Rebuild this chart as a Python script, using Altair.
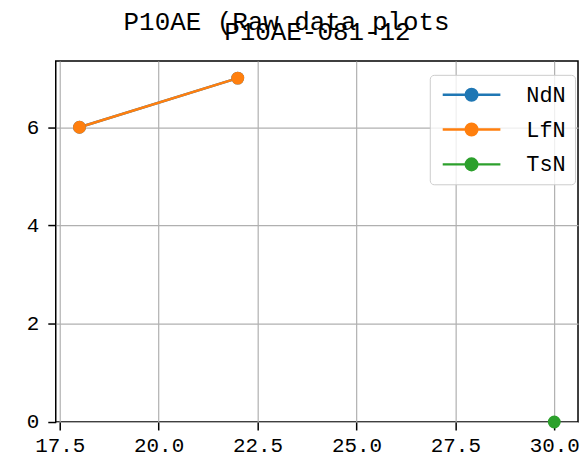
import altair as alt
import pandas as pd

series_names = ["NdN", "LfN", "TsN"]
series_colors = ["#1f77b4", "#ff7f0e", "#2ca02c"]
ndn_x = [18, 22]
ndn_y = [6, 7]
lfn_x = [18, 22]
lfn_y = [6, 7]
tsn_x = [30]
tsn_y = [0]
titles = ["P10AE (Raw data plots", "P10AE-081-12"]
x_ticks = [17.5, 20.0, 22.5, 25.0, 27.5, 30.0]
y_ticks = [0, 2, 4, 6]

rows = []
for name, xs, ys in [("NdN", ndn_x, ndn_y), ("LfN", lfn_x, lfn_y), ("TsN", tsn_x, tsn_y)]:
    for i, (xv, yv) in enumerate(zip(xs, ys)):
        rows.append({"series": name, "x": xv, "y": yv, "order": i})
df = pd.DataFrame(rows)

FONT = "Liberation Mono"

xenc = alt.X("x:Q", scale=alt.Scale(domain=[17.4, 30.6], nice=False, zero=False),
             axis=alt.Axis(values=x_ticks, format=".1f", title=None))
yenc = alt.Y("y:Q", scale=alt.Scale(domain=[0, 7.35], nice=False, zero=False),
             axis=alt.Axis(values=y_ticks, title=None))
color = alt.Color("series:N", sort=series_names,
                  scale=alt.Scale(domain=series_names, range=series_colors),
                  legend=alt.Legend(
                      title=None, orient="none", legendX=376, legendY=14,
                      symbolType="M-1,0L7.28,0M2.31,0A0.83,0.83,0,1,0,3.97,0A0.83,0.83,0,1,0,2.31,0Z",
                      symbolSize=196, symbolStrokeWidth=2.5,
                      labelFont=FONT, labelFontSize=22, labelColor="black",
                      fillColor="rgba(255,255,255,0.8)", strokeColor="#cccccc",
                      cornerRadius=4, padding=9, rowPadding=13, labelOffset=66,
                  ))

lines = alt.Chart(df).mark_line(strokeWidth=2.5, clip=False).encode(
    x=xenc, y=yenc, color=color, order="order:Q", detail="series:N")
points = alt.Chart(df).mark_point(filled=True, size=168, opacity=1, clip=False).encode(
    x=xenc, y=yenc, color=color)

tdf = pd.DataFrame({"t": titles, "i": [0, 1]})
t1 = alt.Chart(tdf[tdf.i == 0]).mark_text(font=FONT, fontSize=26, baseline="alphabetic",
                                             align="center", color="black").encode(
    text="t:N", x=alt.value(232), y=alt.value(-31))
t2 = alt.Chart(tdf[tdf.i == 1]).mark_text(font=FONT, fontSize=26, baseline="alphabetic",
                                             align="center", color="black").encode(
    text="t:N", x=alt.value(263), y=alt.value(-21))

chart = alt.layer(lines, points, t1, t2).properties(
    width=525, height=363,
    autosize=alt.AutoSizeParams(type="none"),
    padding={"left": 48, "top": 52, "right": 2, "bottom": 40},
).configure_view(stroke="black", strokeWidth=1.5).configure_axis(
    labelFont=FONT, labelFontSize=21, labelColor="black",
    tickColor="black", tickSize=8, tickWidth=1.5,
    domain=False, grid=True, gridColor="#b0b0b0", gridWidth=1.2,
    labelPadding=5,
).configure_axisY(labelPadding=9)

chart.save("out.html", embed_options={"renderer": "svg", "actions": False})
